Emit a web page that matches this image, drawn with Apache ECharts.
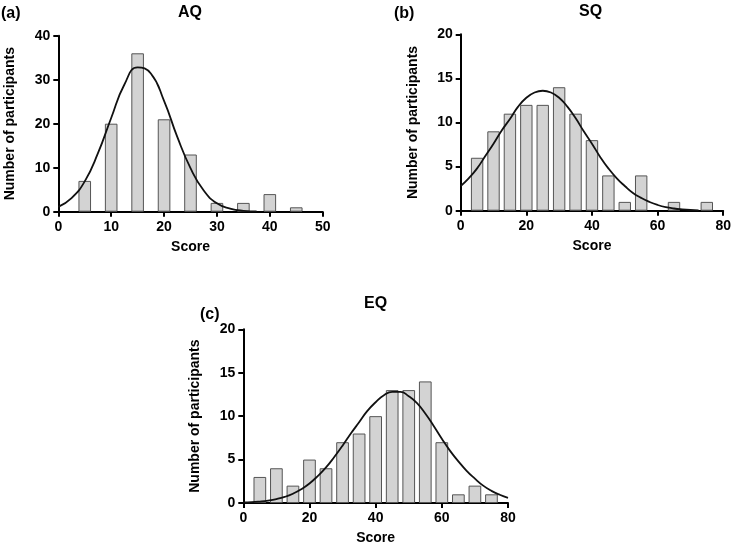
<!DOCTYPE html>
<html>
<head>
<meta charset="utf-8">
<script src="https://cdn.jsdelivr.net/npm/echarts@6/dist/echarts.min.js"></script>
<style>html,body{margin:0;padding:0;background:#fff}#c{width:734px;height:546px}</style>
</head>
<body>
<div id="c"></div>
<script>
// AQ histogram
var aqBins = [5, 10, 15, 20, 25, 30, 35, 40, 45];
var aqCounts = [7, 20, 36, 21, 13, 2, 2, 4, 1];
var aqCurveX = [0, 2.5, 5, 7.5, 10, 12.5, 15, 17.5, 20, 22.5, 25, 27.5, 30, 32.5, 35, 37.5];
var aqCurveY = [1.1, 3.1, 6.9, 13.3, 21.3, 28.9, 32.8, 31.4, 25.2, 17.0, 9.9, 4.8, 1.9, 0.7, 0.2, 0.05];
// SQ histogram
var sqBins = [5, 10, 15, 20, 25, 30, 35, 40, 45, 50, 55, 65, 75];
var sqCounts = [6, 9, 11, 12, 12, 14, 11, 8, 4, 1, 4, 1, 1];
var sqCurveX = [0, 2.5, 5, 7.5, 10, 12.5, 15, 17.5, 20, 22.5, 25, 27.5, 30, 32.5, 35, 37.5, 40, 42.5, 45, 47.5, 50, 52.5, 55, 57.5, 60, 62.5, 65, 67.5, 70, 72.5];
var sqCurveY = [2.8, 3.7, 4.8, 6.2, 7.6, 9.1, 10.4, 11.8, 12.8, 13.4, 13.6, 13.4, 12.8, 11.8, 10.5, 9.0, 7.6, 6.1, 4.8, 3.7, 2.8, 2.0, 1.45, 1.0, 0.65, 0.4, 0.25, 0.15, 0.08, 0.04];
// EQ histogram
var eqBins = [5, 10, 15, 20, 25, 30, 35, 40, 45, 50, 55, 60, 65, 70, 75];
var eqCounts = [3, 4, 2, 5, 4, 7, 8, 10, 13, 13, 14, 7, 1, 2, 1];
var eqCurveX = [0, 2.5, 5, 7.5, 10, 12.5, 15, 17.5, 20, 22.5, 25, 27.5, 30, 32.5, 35, 37.5, 40, 42.5, 45, 47.5, 50, 52.5, 55, 57.5, 60, 62.5, 65, 67.5, 70, 72.5, 75, 77.5, 80];
var eqCurveY = [0.08, 0.1, 0.17, 0.28, 0.45, 0.7, 1.07, 1.58, 2.25, 3.1, 4.1, 5.3, 6.6, 8.0, 9.3, 10.6, 11.6, 12.4, 12.8, 12.8, 12.3, 11.5, 10.3, 8.9, 7.4, 6.0, 4.8, 3.7, 2.8, 2.0, 1.4, 0.95, 0.6];

var titles = ['AQ', 'SQ', 'EQ'];
var panelLabels = ['(a)', '(b)', '(c)'];
var xAxisName = 'Score';
var yAxisName = 'Number of participants';

var FONT = 'Arial, "Liberation Sans", sans-serif';
function pairs(xs, ys) { return xs.map(function (x, i) { return [x, ys[i]]; }); }

var grids = [
  { left: 58.3, top: 35.7, width: 264.4, height: 176 },
  { left: 460.7, top: 34.3, width: 262.6, height: 176.4 },
  { left: 243.3, top: 329.3, width: 264.7, height: 176.7 }
];
var axisCommon = {
  axisLine: { lineStyle: { color: '#000', width: 2 } },
  axisTick: { show: true, length: 5, lineStyle: { color: '#000', width: 2 } },
  axisLabel: { color: '#000', fontWeight: 'bold', fontSize: 14, fontFamily: FONT, margin: 8 },
  splitLine: { show: false },
  nameTextStyle: { color: '#000', fontWeight: 'bold', fontSize: 14, fontFamily: FONT }
};
function xAx(i, max, interval) {
  return Object.assign({}, axisCommon, {
    type: 'value', gridIndex: i, min: 0, max: max, interval: interval,
    name: xAxisName, nameLocation: 'middle', nameGap: 28
  });
}
function yAx(i, max, interval) {
  return Object.assign({}, axisCommon, {
    type: 'value', gridIndex: i, min: 0, max: max, interval: interval,
    name: yAxisName, nameLocation: 'middle', nameGap: 41
  });
}
var barStyle = { color: '#d3d3d3', borderColor: '#555', borderWidth: 1 };
var lineStyle = { color: '#111', width: 1.8 };
function barS(i, xs, ys, w) {
  return { type: 'bar', xAxisIndex: i, yAxisIndex: i, data: pairs(xs, ys), barWidth: w, itemStyle: barStyle, silent: true, animation: false };
}
function lineS(i, xs, ys) {
  return { type: 'line', xAxisIndex: i, yAxisIndex: i, data: pairs(xs, ys), smooth: true, showSymbol: false, symbol: 'none', lineStyle: lineStyle, silent: true, animation: false, z: 5 };
}
function txt(str, x, y, size, align) {
  return { type: 'text', left: x, top: y, style: { text: str, font: 'bold ' + size + 'px ' + FONT, fill: '#000', textAlign: align || 'left' } };
}

var chart = echarts.init(document.getElementById('c'));
chart.setOption({
  animation: false,
  grid: grids,
  xAxis: [xAx(0, 50, 10), xAx(1, 80, 20), xAx(2, 80, 20)],
  yAxis: [yAx(0, 40, 10), yAx(1, 20, 5), yAx(2, 20, 5)],
  series: [
    barS(0, aqBins, aqCounts, 12.6), lineS(0, aqCurveX, aqCurveY),
    barS(1, sqBins, sqCounts, 12.4), lineS(1, sqCurveX, sqCurveY),
    barS(2, eqBins, eqCounts, 12.7), lineS(2, eqCurveX, eqCurveY)
  ],
  graphic: [
    txt(titles[0], 178, 5, 16),
    txt(titles[1], 579, 4, 16),
    txt(titles[2], 364, 296, 16),
    txt(panelLabels[0], 1, 6, 16),
    txt(panelLabels[1], 394, 6, 16),
    txt(panelLabels[2], 200, 307, 16)
  ]
});
</script>
</body>
</html>
